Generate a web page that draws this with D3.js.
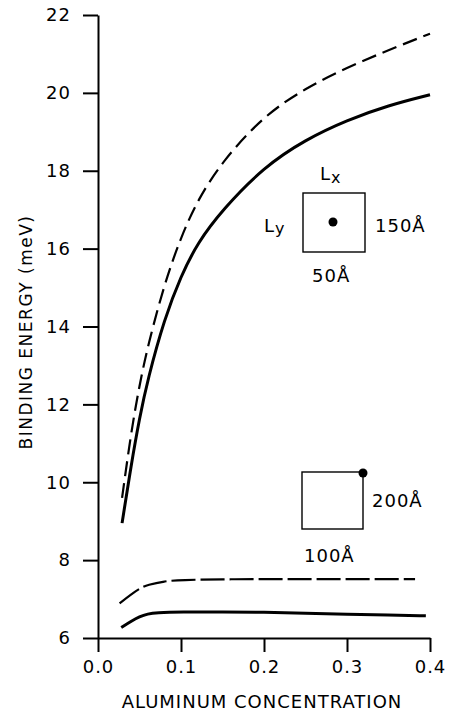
<!DOCTYPE html>
<html>
<head>
<meta charset="utf-8">
<script src="https://cdnjs.cloudflare.com/ajax/libs/d3/7.8.5/d3.min.js"></script>
<style>
body { margin: 0; background: #fff; }
text { font-family: "DejaVu Sans", sans-serif; fill: #000; }
.tick text { font-size: 18px; letter-spacing: 1px; }
.axis path, .axis line { stroke: #000; stroke-width: 2; }
</style>
</head>
<body>
<div id="chart"></div>
<script>
// upper pair of curves (box 150A x 50A, donor at centre)
var concTop = [0.029, 0.04, 0.05, 0.06, 0.08, 0.10, 0.12, 0.15, 0.20, 0.25, 0.30, 0.35, 0.40];
var solidTop = [8.95, 10.45, 11.65, 12.65, 14.2, 15.3, 16.15, 17.0, 18.1, 18.8, 19.3, 19.68, 19.95];
var dashedTop = [9.6, 11.3, 12.5, 13.5, 15.1, 16.3, 17.25, 18.25, 19.42, 20.12, 20.65, 21.1, 21.52];

// lower pair of curves (box 200A x 100A, donor at corner)
var concLowSolid = [0.028, 0.04, 0.05, 0.06, 0.07, 0.10, 0.15, 0.20, 0.25, 0.30, 0.35, 0.395];
var solidLow = [6.27, 6.43, 6.55, 6.62, 6.65, 6.67, 6.67, 6.66, 6.64, 6.61, 6.59, 6.57];
var concLowDashed = [0.026, 0.04, 0.05, 0.06, 0.08, 0.10, 0.15, 0.20, 0.25, 0.30, 0.35, 0.382];
var dashedLow = [6.89, 7.12, 7.27, 7.37, 7.46, 7.49, 7.51, 7.51, 7.51, 7.51, 7.51, 7.51];

var xTicks = [0.0, 0.1, 0.2, 0.3, 0.4];
var yTicks = [6, 8, 10, 12, 14, 16, 18, 20, 22];

var width = 450, height = 713;

var svg = d3.select("#chart")
.append("svg")
.attr("width", width)
.attr("height", height);

var x = d3.scaleLinear()
.domain([0, 0.4])
.range([98, 430]);

var y = d3.scaleLinear()
.domain([6, 22])
.range([638, 15]);

// axes
svg.append("g")
.attr("class", "axis")
.attr("transform", "translate(0," + y(6) + ")")
.call(d3.axisBottom(x).tickValues(xTicks).tickFormat(d3.format(".1f")).tickSize(14).tickSizeOuter(0).tickPadding(8));

svg.append("g")
.attr("class", "axis")
.attr("transform", "translate(" + x(0) + ",0)")
.call(d3.axisLeft(y).tickValues(yTicks).tickSize(15).tickSizeOuter(0).tickPadding(12));

// curves
var pairs = function(xs, ys){ return xs.map(function(d, i){ return [d, ys[i]]; }); };

var line = d3.line()
.x(function(d){ return x(d[0]); })
.y(function(d){ return y(d[1]); })
.curve(d3.curveBasis);

var series = [
  {pts: pairs(concTop, solidTop), w: 3, dash: null},
  {pts: pairs(concTop, dashedTop), w: 2.2, dash: "15,7"},
  {pts: pairs(concLowSolid, solidLow), w: 3, dash: null},
  {pts: pairs(concLowDashed, dashedLow), w: 2.2, dash: "24,5"}
];

svg.append("g")
.selectAll("path")
.data(series)
.enter()
.append("path")
.attr("d", function(d){ return line(d.pts); })
.attr("fill", "none")
.attr("stroke", "#000")
.attr("stroke-width", function(d){ return d.w; })
.attr("stroke-dasharray", function(d){ return d.dash; });

// inset sketches of the box
var insets = svg.append("g");

insets.append("rect")
.attr("x", 303).attr("y", 193).attr("width", 62).attr("height", 59)
.attr("fill", "none").attr("stroke", "#000").attr("stroke-width", 1.4);
insets.append("circle")
.attr("cx", 333).attr("cy", 222).attr("r", 4.5);

insets.append("rect")
.attr("x", 302).attr("y", 472).attr("width", 61).attr("height", 57)
.attr("fill", "none").attr("stroke", "#000").attr("stroke-width", 1.4);
insets.append("circle")
.attr("cx", 363).attr("cy", 473).attr("r", 4.5);

var lab = function(t, px, py){
  return insets.append("text")
  .text(t)
  .attr("x", px)
  .attr("y", py)
  .style("font-size", "18px")
  .style("letter-spacing", "1px");
};

var lx = lab("L", 320, 180);
lx.append("tspan").text("x").attr("dy", 3).style("font-size", "16px");
var ly = lab("L", 264, 232);
ly.append("tspan").text("y").attr("dy", 2).style("font-size", "16px");
lab("150Å", 375, 232);
lab("50Å", 312, 282);
lab("200Å", 372, 507);
lab("100Å", 304, 562);

// axis titles
svg.append("text")
.text("ALUMINUM CONCENTRATION")
.attr("text-anchor", "middle")
.attr("x", 262)
.attr("y", 708)
.style("font-size", "18px")
.style("letter-spacing", "1px");

svg.append("g")
.attr("transform", "translate(32,332)")
.append("text")
.text("BINDING ENERGY (meV)")
.attr("text-anchor", "middle")
.attr("transform", "rotate(-90)")
.style("font-size", "17px")
.style("letter-spacing", "1.5px");
</script>
</body>
</html>
